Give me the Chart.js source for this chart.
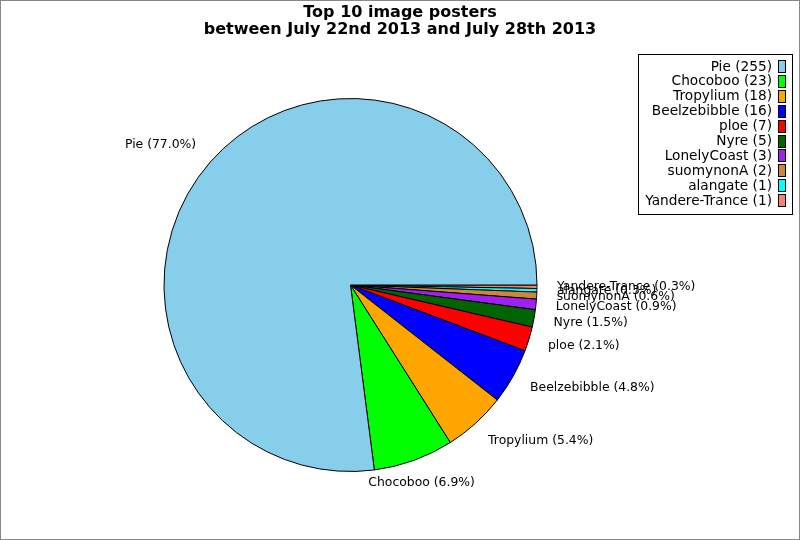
<!DOCTYPE html>
<html>
<head>
<meta charset="utf-8">
<script src="https://cdn.jsdelivr.net/npm/chart.js@4/dist/chart.umd.min.js"></script>
<style>
  html, body { margin: 0; padding: 0; background: #fff; }
  #wrap { width: 800px; height: 540px; position: relative; }
</style>
</head>
<body>
<div id="wrap"><canvas id="pie" width="800" height="540"></canvas></div>
<script>
// values (legend order)
const posters = ['Pie', 'Chocoboo', 'Tropylium', 'Beelzebibble', 'ploe', 'Nyre',
  'LonelyCoast', 'suomynonA', 'alangate', 'Yandere-Trance'];
const imageCounts = [255, 23, 18, 16, 7, 5, 3, 2, 1, 1];
const sliceColors = ['#87CEEB', '#00FF00', '#FFA500', '#0000FF', '#FF0000', '#006400',
  '#A020F0', '#CD853F', '#00FFFF', '#FA8072'];
const titleLines = ['Top 10 image posters', 'between July 22nd 2013 and July 28th 2013'];

const FONT = "'DejaVu Sans', sans-serif";
const total = imageCounts.reduce((a, b) => a + b, 0);

// reference runs counter-clockwise from 3 o'clock; Chart.js runs clockwise,
// so feed the slices reversed and start at 90deg
const revLabels = posters.slice().reverse();
const revCounts = imageCounts.slice().reverse();
const revColors = sliceColors.slice().reverse();

const decorations = {
  id: 'decorations',
  beforeDraw(chart) {
    const ctx = chart.ctx;
    ctx.save();
    ctx.fillStyle = '#fff';
    ctx.fillRect(0, 0, chart.width, chart.height);
    ctx.restore();
  },
  afterDraw(chart) {
    const ctx = chart.ctx;
    ctx.save();

    // outer frame
    ctx.strokeStyle = '#888';
    ctx.lineWidth = 1;
    ctx.strokeRect(0.5, 0.5, chart.width - 1, chart.height - 1);

    // title
    ctx.fillStyle = '#000';
    ctx.font = 'bold 16px ' + FONT;
    ctx.textAlign = 'center';
    ctx.textBaseline = 'middle';
    ctx.fillText(titleLines[0], 400, 13);
    ctx.fillText(titleLines[1], 400, 30);

    // slice labels
    ctx.font = '12.4px ' + FONT;
    const arcs = chart.getDatasetMeta(0).data;
    arcs.forEach((arc, i) => {
      const mid = (arc.startAngle + arc.endAngle) / 2;
      const r = arc.outerRadius + 23;
      const px = arc.x + Math.cos(mid) * r;
      const py = arc.y + Math.sin(mid) * r;
      const c = Math.cos(mid);
      const pct = (revCounts[i] / total * 100).toFixed(1);
      const txt = revLabels[i] + ' (' + pct + '%)';
      if (c > 0.5) { ctx.textAlign = 'left'; ctx.fillText(txt, px - 3, py); }
      else if (c < -0.5) { ctx.textAlign = 'right'; ctx.fillText(txt, px + 3, py - 2); }
      else { ctx.textAlign = 'center'; ctx.fillText(txt, px, py + 1); }
    });

    // legend box
    ctx.strokeStyle = '#000';
    ctx.strokeRect(638.5, 54.5, 154, 160);
    ctx.font = '13.7px ' + FONT;
    ctx.textAlign = 'right';
    posters.forEach((name, i) => {
      const y = 67 + i * 14.9;
      ctx.fillStyle = '#000';
      ctx.fillText(name + ' (' + imageCounts[i] + ')', 772, y);
      ctx.fillStyle = sliceColors[i];
      ctx.fillRect(779, Math.round(y - 6), 7, 12);
      ctx.strokeRect(778.5, Math.round(y - 6) - 0.5, 7, 12);
    });

    ctx.restore();
  }
};

new Chart(document.getElementById('pie'), {
  type: 'pie',
  data: {
    labels: revLabels,
    datasets: [{
      data: revCounts,
      backgroundColor: revColors,
      borderColor: '#000',
      borderWidth: 1
    }]
  },
  options: {
    responsive: false,
    animation: false,
    devicePixelRatio: 1,
    rotation: 90,
    layout: { padding: { top: 98, bottom: 68, left: 163, right: 262 } },
    plugins: {
      legend: { display: false },
      title: { display: false },
      tooltip: { enabled: false }
    }
  },
  plugins: [decorations]
});
</script>
</body>
</html>
